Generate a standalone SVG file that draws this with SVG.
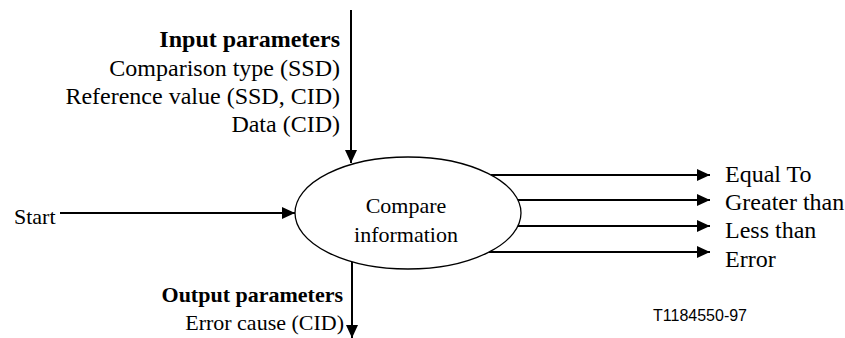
<svg xmlns="http://www.w3.org/2000/svg" width="845" height="338" viewBox="0 0 845 338">
<defs>
<marker id="ah" markerUnits="userSpaceOnUse" markerWidth="14" markerHeight="13" refX="13" refY="6" orient="auto">
<path d="M0,0 L13,6 L0,12 z" fill="#000"/>
</marker>
<style>
.t{font-family:"Liberation Serif","Times New Roman",serif;font-size:22px;fill:#000}
.L{font-size:24px}
.b{font-weight:bold}
.e{text-anchor:end}
.m{text-anchor:middle}
.c{stroke:#000;stroke-width:2;fill:none;marker-end:url(#ah)}
.s{font-family:"Liberation Sans",Arial,sans-serif;font-size:16px;fill:#000}
</style>
</defs>
<rect width="845" height="338" fill="#fff"/>
<g id="connectors">
<line class="c" x1="351" y1="10" x2="351" y2="163"/>
<line class="c" x1="60" y1="213" x2="295" y2="213"/>
<line class="c" x1="352" y1="262" x2="352" y2="338"/>
<line class="c" x1="491" y1="175" x2="710" y2="175"/>
<line class="c" x1="518" y1="200" x2="710" y2="200"/>
<line class="c" x1="517" y1="226" x2="710" y2="226"/>
<line class="c" x1="489" y1="252" x2="710" y2="252"/>
</g>
<g id="compare">
<ellipse cx="408" cy="213" rx="113" ry="56" fill="#fff" stroke="#000" stroke-width="1.3"/>
<text class="t m" x="406" y="213">Compare</text>
<text class="t m" x="406" y="242">information</text>
</g>
<g id="input">
<text class="t L b e" x="340" y="47">Input parameters</text>
<text class="t L e" x="340" y="76">Comparison type (SSD)</text>
<text class="t L e" x="340" y="104">Reference value (SSD, CID)</text>
<text class="t L e" x="340" y="132">Data (CID)</text>
</g>
<g id="start"><text class="t" x="14" y="224">Start</text></g>
<g id="output">
<text class="t b e" x="343" y="302">Output parameters</text>
<text class="t e" x="344" y="330">Error cause (CID)</text>
</g>
<g id="results">
<text class="t L" x="725" y="182">Equal To</text>
<text class="t L" x="725" y="209.5">Greater than</text>
<text class="t L" x="725" y="238">Less than</text>
<text class="t L" x="725" y="266.5">Error</text>
</g>
<text class="s" x="653" y="321">T1184550-97</text>
</svg>
